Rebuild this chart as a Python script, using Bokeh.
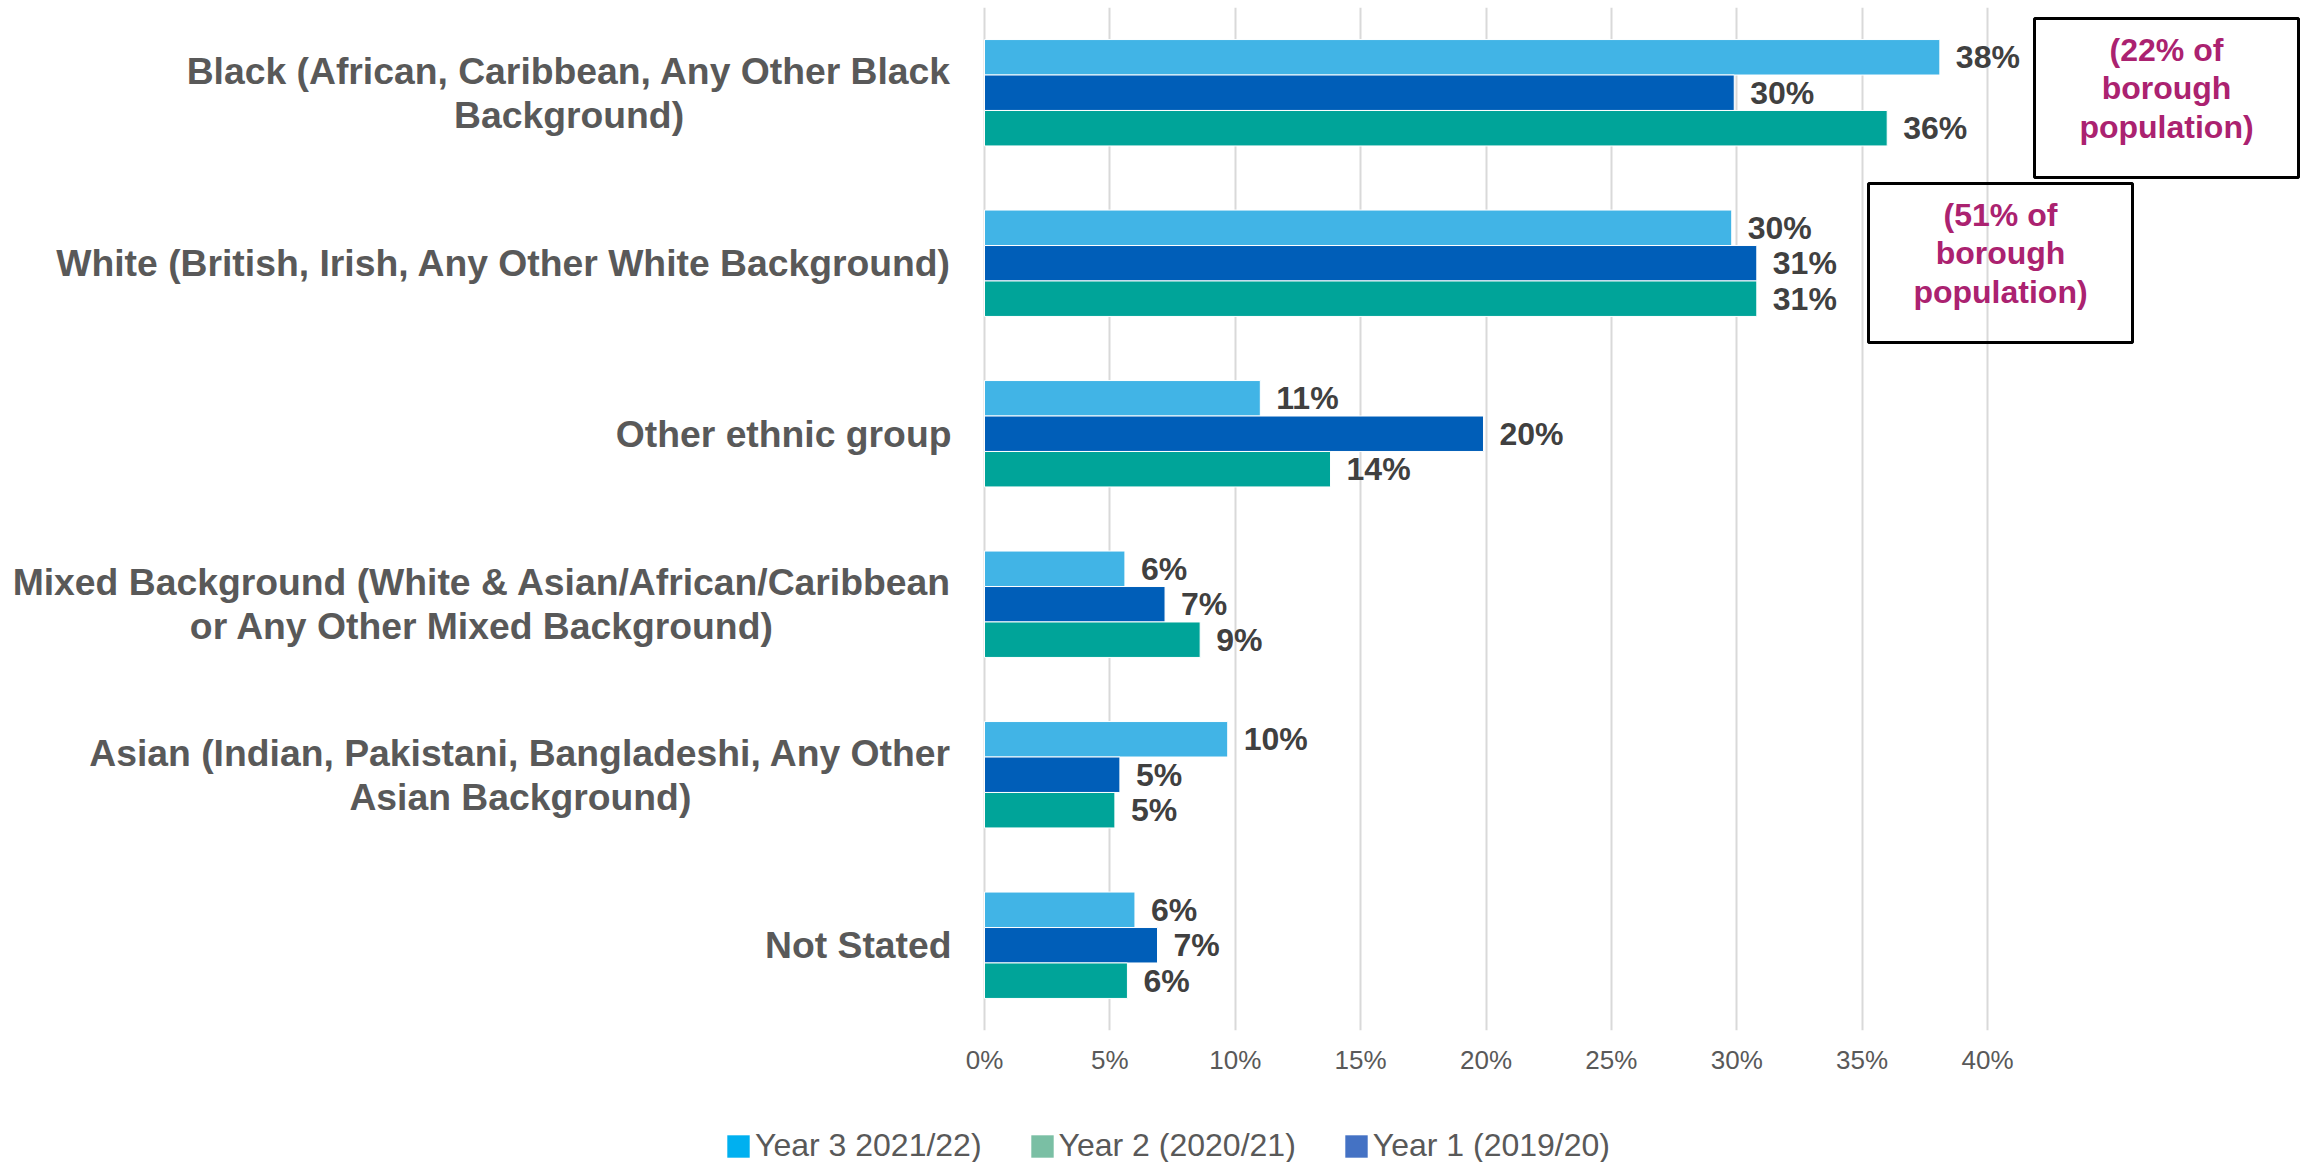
from bokeh.plotting import figure
from bokeh.layouts import column
from bokeh.models import (ColumnDataSource, FactorRange, Range1d, FixedTicker,
                          NumeralTickFormatter, BoxAnnotation, Legend, LegendItem)
from bokeh.transform import dodge
from bokeh.core.properties import value
from bokeh.embed import file_html
from bokeh.resources import INLINE

# ---------------- data ----------------
keys = ["Black", "White", "Other", "Mixed", "Asian", "NotStated"]
category_labels = [
    "Black (African, Caribbean, Any Other Black\nBackground)",
    "White (British, Irish, Any Other White Background)",
    "Other ethnic group",
    "Mixed Background (White & Asian/African/Caribbean\nor Any Other Mixed Background)",
    "Asian (Indian, Pakistani, Bangladeshi, Any Other\nAsian Background)",
    "Not Stated",
]
year3 = [38.1, 29.8, 11.0, 5.6, 9.7, 6.0]   # Year 3 2021/22
year1 = [29.9, 30.8, 19.9, 7.2, 5.4, 6.9]   # Year 1 2019/20
year2 = [36.0, 30.8, 13.8, 8.6, 5.2, 5.7]   # Year 2 2020/21
legend_names = ["Year 3 2021/22)", "Year 2 (2020/21)", "Year 1 (2019/20)"]
x_ticks = [0, 0.05, 0.10, 0.15, 0.20, 0.25, 0.30, 0.35, 0.40]
notes = ["(22% of\nborough\npopulation)", "(51% of\nborough\npopulation)"]

# ---------------- layout constants ----------------
W, H = 2305, 1162
MAIN_H = 1090              # main chart height; legend strip below
FT, FB = 7, 1030           # frame top / bottom in px
ZERO_PX = 984              # pixel position of 0%
PX_PER_UNIT = 1003 / 0.4   # 40% spans 1003 px
BAND = (FB - FT) / len(keys)

def xd(px):
    return (px - ZERO_PX) / PX_PER_UNIT

def yd(py):
    return (FB - py) / BAND

FONT = "Liberation Sans"
LABEL_GREY = "#595959"
C_Y3, C_Y1, C_Y2 = "#41B4E6", "#005EB8", "#00A499"

# Arial/Liberation Sans Bold advance widths (per 1000 em) to centre multi-line labels
AW = dict(zip("ABCDEFGHIJKLMNOPQRSTUVWXYZ",
              [722, 722, 722, 722, 667, 611, 778, 722, 278, 556, 722, 611, 833, 722, 778, 667, 778, 722, 667, 611, 722, 667, 944, 667, 667, 611]))
AW.update(dict(zip("abcdefghijklmnopqrstuvwxyz",
                   [556, 611, 556, 611, 556, 333, 611, 611, 278, 278, 556, 278, 889, 611, 611, 611, 611, 389, 556, 333, 611, 556, 778, 556, 556, 500])))
AW.update({" ": 278, "(": 333, ")": 333, ",": 278, "&": 722, "/": 278, "%": 889})

def text_w(s, size):
    return max(sum(AW.get(c, 556) for c in line) for line in s.split("\n")) / 1000 * size

CAT_SIZE = 37.3

p = figure(width=W, height=MAIN_H, output_backend="svg", toolbar_location=None,
           x_range=Range1d(xd(0), xd(W)),
           y_range=FactorRange(factors=list(reversed(keys)), range_padding=0),
           y_axis_location=None,
           min_border_left=0, min_border_right=0, min_border_top=FT,
           min_border_bottom=MAIN_H - FB)
p.outline_line_color = None
p.background_fill_color = "white"
p.border_fill_color = "white"

# grid & axis
p.ygrid.grid_line_color = None
p.xgrid.grid_line_color = "#D9D9D9"
p.xgrid.grid_line_width = 2
p.xaxis.ticker = FixedTicker(ticks=x_ticks)
p.xgrid.ticker = FixedTicker(ticks=x_ticks)
p.xaxis.formatter = NumeralTickFormatter(format="0%")
p.xaxis.axis_line_color = None
p.xaxis.major_tick_line_color = None
p.xaxis.minor_tick_line_color = None
p.xaxis.major_tick_out = 0
p.xaxis.major_label_standoff = 14
p.xaxis.major_label_text_font = FONT
p.xaxis.major_label_text_font_size = "26px"
p.xaxis.major_label_text_color = LABEL_GREY

src = ColumnDataSource(dict(
    cat=keys,
    y3=[v / 100 for v in year3],
    y1=[v / 100 for v in year1],
    y2=[v / 100 for v in year2],
    l3=[f"{round(v)}%" for v in year3],
    l1=[f"{round(v)}%" for v in year1],
    l2=[f"{round(v)}%" for v in year2],
    lab=category_labels,
    lab_off=[-(33 + text_w(s, CAT_SIZE) / 2) for s in category_labels],
))

BH = 0.208
for col, lab, off, color in [("y3", "l3", BH, C_Y3), ("y1", "l1", 0.0, C_Y1), ("y2", "l2", -BH, C_Y2)]:
    yy = dodge("cat", off, range=p.y_range)
    p.hbar(y=yy, right=col, left=0, height=BH, source=src,
           fill_color=color, line_color="white", line_width=1)
    p.text(x=col, y=yy, text=lab, source=src, x_offset=16,
           text_align="left", text_baseline="middle",
           text_font=value(FONT), text_font_style="bold",
           text_font_size="32px", text_color="#404040")

# category labels
p.text(x=0, y="cat", text="lab", source=src, x_offset="lab_off",
       text_align="center", text_baseline="middle",
       text_font=value(FONT), text_font_style="bold",
       text_font_size=f"{CAT_SIZE}px", text_color=LABEL_GREY, text_line_height=1.04)

# annotation boxes
boxes = [(2034, 2298, 18, 177), (1868, 2132, 183, 342)]
for (l, r, t, b) in boxes:
    p.add_layout(BoxAnnotation(left=xd(l), right=xd(r), top=yd(t), bottom=yd(b),
                               fill_alpha=0, fill_color=None,
                               line_color="black", line_alpha=1, line_width=3))
note_src = ColumnDataSource(dict(
    x=[xd((l + r) / 2) for (l, r, t, b) in boxes],
    y=[yd(t + 70) for (l, r, t, b) in boxes],
    text=notes))
p.text(x="x", y="y", text="text", source=note_src,
       text_align="center", text_baseline="middle",
       text_font=value(FONT), text_font_style="bold",
       text_font_size="32px", text_color="#AB2270", text_line_height=1.075)

# ---------------- legend strip (separate swatch colours as in the original) ----------------
LEG_H = H - MAIN_H
q = figure(width=W, height=LEG_H, output_backend="svg", toolbar_location=None,
           x_range=Range1d(0, W), y_range=Range1d(0, LEG_H),
           x_axis_location=None, y_axis_location=None,
           min_border_left=0, min_border_right=0, min_border_top=0, min_border_bottom=0)
q.outline_line_color = None
q.xgrid.visible = False
q.ygrid.visible = False
q.border_fill_color = "white"

legend_colors = ["#00B0F0", "#7ABFA4", "#4472C4"]
items = []
for name, color in zip(legend_names, legend_colors):
    # zero-size proxy bar: only its legend swatch is visible
    proxy = ColumnDataSource(dict(y=[0], left=[0], right=[0]))
    r = q.hbar(y="y", left="left", right="right", height=0, source=proxy,
               fill_color=color, line_color=None)
    items.append(LegendItem(label=name, renderers=[r]))
leg = Legend(items=items, location=(724, -2),
             orientation="horizontal",
             padding=0, margin=0, spacing=46,
             glyph_width=28, glyph_height=28, label_standoff=3,
             label_text_font=FONT, label_text_font_size="32px",
             label_text_color=LABEL_GREY,
             border_line_color=None, background_fill_alpha=0)
q.add_layout(leg)

layout = column(p, q, spacing=0)
open("out.html", "w").write(file_html(layout, INLINE))
